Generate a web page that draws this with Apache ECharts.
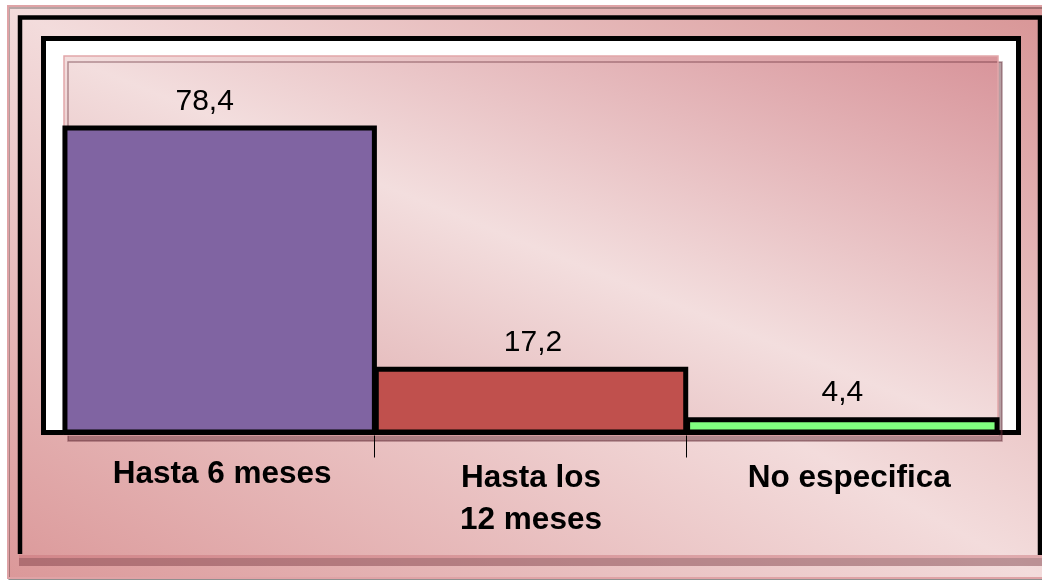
<!DOCTYPE html>
<html>
<head>
<meta charset="utf-8">
<title>Hasta 6 meses / Hasta los 12 meses / No especifica</title>
<script src="https://cdn.jsdelivr.net/npm/echarts@6/dist/echarts.min.js"></script>
<style>
  html, body { margin: 0; padding: 0; background: #ffffff; }
  #chart { width: 1042px; height: 580px; }
</style>
</head>
<body>
<div id="chart"></div>
<script>
// Percentages per category
const categories = ['Hasta 6 meses', 'Hasta los\n12 meses', 'No especifica'];
const values = [78.4, 17.2, 4.4];
const barColors = ['#8064a2', '#c0504d', '#80ff80'];
const valueMax = 96;

const FONT = 'Liberation Sans, Arial, sans-serif';
const LG = echarts.graphic.LinearGradient;

// Pink diagonal fills: dark at top-right and bottom-left, light band through the middle
const outerFill = new LG(767, -146, 283, 730, [
  { offset: 0, color: '#d89596' },
  { offset: 0.5, color: '#f3dcdc' },
  { offset: 1, color: '#db9899' }
], true);
const plotFill = new LG(663, -80, 399, 571, [
  { offset: 0, color: '#d8949a' },
  { offset: 0.5, color: '#f3dede' },
  { offset: 1, color: '#d99ea0' }
], true);

const labelShift = [[-15, 0], [2, 0], [0, 0]];

const chart = echarts.init(document.getElementById('chart'), null, { renderer: 'canvas' });

const frameElements = [
  { id: 'outer', type: 'rect', z: -10,
    shape: { x: 8, y: 6, width: 1040, height: 572 },
    style: { fill: outerFill, stroke: '#dfa3a6', lineWidth: 2,
             shadowColor: 'rgba(0,0,0,0.25)', shadowOffsetY: 2, shadowOffsetX: 1 } },
  { id: 'outerFrame', type: 'polyline', z: -9,
    shape: { points: [[20, 554], [20, 17.5], [1040, 17.5], [1040, 555]] },
    style: { stroke: '#000', lineWidth: 4.5, fill: null } },
  { id: 'bandLight', type: 'rect', z: -9,
    shape: { x: 19, y: 555, width: 1030, height: 3 },
    style: { fill: 'rgba(200,110,118,0.45)' } },
  { id: 'bandDark', type: 'rect', z: -9,
    shape: { x: 19, y: 558, width: 1030, height: 8 },
    style: { fill: 'rgba(120,55,65,0.45)' } },
  { id: 'innerFrame', type: 'rect', z: -8,
    shape: { x: 43.5, y: 38.5, width: 975, height: 394 },
    style: { fill: '#ffffff', stroke: '#000', lineWidth: 5 } },
  { id: 'plotBg', type: 'rect', z: -7,
    shape: { x: 64, y: 56, width: 934, height: 379 },
    style: { fill: plotFill, stroke: '#e2a6a9', lineWidth: 1.5,
             shadowColor: 'rgba(95,40,50,0.45)', shadowOffsetX: 4, shadowOffsetY: 6 } }
];

chart.setOption({
  animation: false,
  backgroundColor: '#ffffff',
  graphic: { elements: frameElements },
  grid: { left: 64, top: 56, width: 934, height: 378.5, containLabel: false },
  xAxis: {
    type: 'category',
    data: categories,
    offset: -2,
    axisLine: { show: true, lineStyle: { color: '#000', width: 5 } },
    axisTick: { show: false },
    axisLabel: {
      interval: 0,
      margin: 25,
      color: '#000',
      fontFamily: FONT,
      fontSize: 31.5,
      fontWeight: 'bold',
      lineHeight: 42,
      formatter: (value, index) => '{c' + index + '|' + value + '}',
      rich: {
        c0: { fontFamily: FONT, fontSize: 31.5, fontWeight: 'bold', color: '#000', lineHeight: 34, padding: [0, 0, 0, 5] },
        c1: { fontFamily: FONT, fontSize: 31.5, fontWeight: 'bold', color: '#000', lineHeight: 42 },
        c2: { fontFamily: FONT, fontSize: 31.5, fontWeight: 'bold', color: '#000', lineHeight: 42, padding: [0, 0, 0, 14] }
      }
    },
    splitLine: { show: false }
  },
  yAxis: {
    type: 'value',
    min: 0,
    max: valueMax,
    show: false,
    splitLine: { show: false }
  },
  series: [{
    type: 'bar',
    barWidth: '101%',
    data: values.map((v, i) => ({
      value: v,
      itemStyle: { color: barColors[i] },
      label: { offset: labelShift[i] }
    })),
    itemStyle: { borderColor: '#000', borderWidth: 5 },
    label: {
      show: true,
      position: 'top',
      distance: 9,
      color: '#000',
      fontFamily: FONT,
      fontSize: 30,
      formatter: (p) => p.value.toFixed(1).replace('.', ',')
    }
  }]
});

// Thin tick marks at the inner category boundaries, placed from the axis scale
const centers = categories.map((c, i) => chart.convertToPixel({ xAxisIndex: 0 }, i));
const tickTop = chart.convertToPixel({ yAxisIndex: 0 }, 0) + 1;
const ticks = [];
for (let i = 0; i < centers.length - 1; i++) {
  const x = Math.round((centers[i] + centers[i + 1]) / 2) - 0.5;
  ticks.push({
    id: 'tick' + i, type: 'line', z: 5,
    shape: { x1: x, y1: tickTop, x2: x, y2: tickTop + 22 },
    style: { stroke: '#000', lineWidth: 1 }
  });
}
chart.setOption({ graphic: { elements: ticks } });
</script>
</body>
</html>
